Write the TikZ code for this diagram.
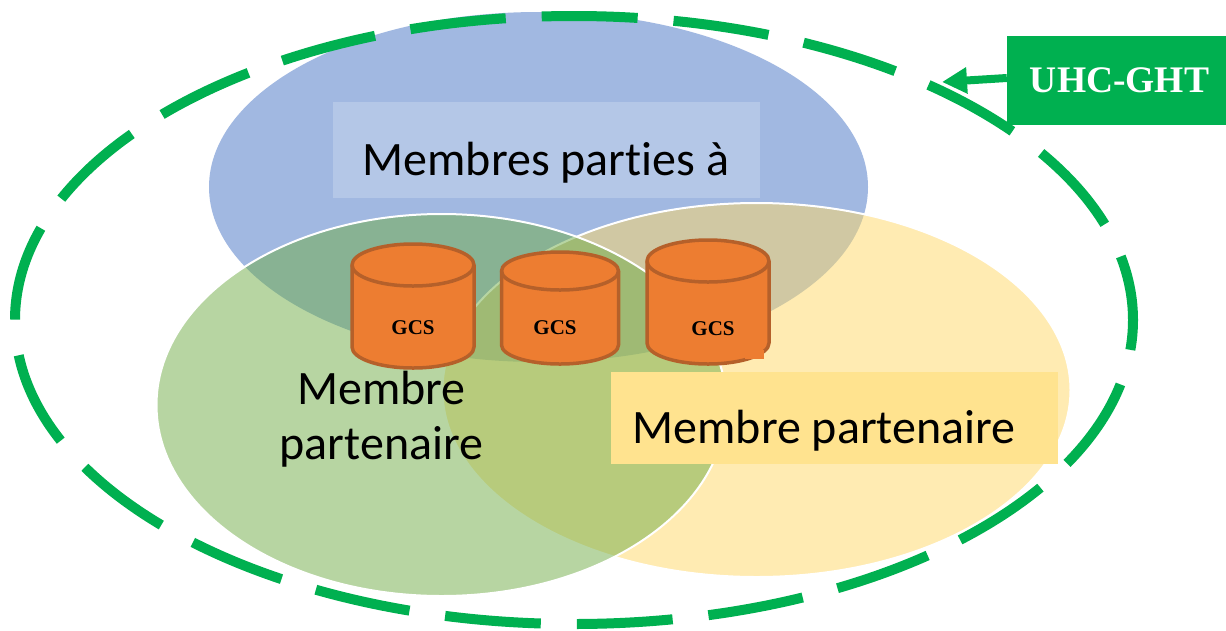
\documentclass[tikz,border=0pt]{standalone}
\usepackage{fontspec}
\setmainfont{Carlito}
\newfontfamily\serifb[Ligatures=TeX]{Liberation Serif}
\usetikzlibrary{arrows.meta,calc}
\definecolor{bluec}{HTML}{4472C4}
\definecolor{greenc}{HTML}{70AD47}
\definecolor{yellowc}{HTML}{FFD966}
\definecolor{orangec}{HTML}{ED7D31}
\definecolor{orangel}{HTML}{B5602A}
\definecolor{ghtc}{HTML}{00B050}
\definecolor{boxb}{HTML}{B4C7E7}
\definecolor{boxy}{HTML}{FFE38F}
\tikzset{
  venn/.style={fill opacity=.5,draw=white,draw opacity=1,line width=2pt},
  lab/.style={font=\fontsize{48}{55}\selectfont,text=black,inner sep=0pt,align=center},
  gcs/.style={font=\fontsize{21}{24}\selectfont\serifb\bfseries,text=black,inner sep=0pt},
  cyl/.style={fill=orangec,draw=orangel,line width=3.5pt,line join=round},
  ghtdash/.style={draw=ghtc,line width=10pt,dash pattern=on 96pt off 36pt,dash phase=66pt}
}
\newcommand{\cylinder}[5]{% cx, rx, top-y, bottom-y, ry
  \path[cyl] (#1-#2,#3+#5) -- (#1-#2,#4-#5)
    arc[start angle=180,end angle=0,x radius=#2,y radius=#5]
    -- (#1+#2,#3+#5)
    arc[start angle=0,end angle=-180,x radius=#2,y radius=#5] -- cycle;
  \path[cyl,fill=none] (#1-#2,#3+#5) arc[start angle=180,end angle=0,x radius=#2,y radius=#5];
}
\begin{document}
\begin{tikzpicture}[x=1pt,y=-1pt]
\useasboundingbox (0,0) rectangle (1226,630);
\fill[white] (0,0) rectangle (1226,630);
\path[fill=bluec,fill opacity=.5] (538.5,187) ellipse[x radius=329.5,y radius=175];
\path[venn,fill=yellowc] (756.5,390) ellipse[x radius=314,y radius=187];
\path[venn,fill=greenc] (441.5,405) ellipse[x radius=285,y radius=191];
\draw[ghtdash] (574,320) ellipse[x radius=559,y radius=304];
\node[fill=boxb,minimum width=427pt,minimum height=96pt,inner sep=0pt] (bparties) at (546.5,150) {};
\node[lab] (tparties) at (546,163) {Membres part\kern0pt ies à};
\node[fill=boxy,minimum width=447pt,minimum height=92pt,inner sep=0pt] (bpart) at (834.5,418) {};
\node[lab] (tpart) at (824,431) {Membre partenaire};
\node[lab] (tgreen) at (381.5,419) {Membre\\partenaire};
\cylinder{413}{61}{244}{368}{21}
\cylinder{560}{58.5}{252}{364}{19}
\cylinder{708}{61}{240}{364}{21}
\fill[orangec] (745,350) rectangle (764,358.5);
\node[gcs] (g1) at (413,328) {GCS};
\node[gcs] (g2) at (555,328) {GCS};
\node[gcs] (g3) at (713,329) {GCS};
\node[fill=ghtc,minimum width=219pt,minimum height=89pt,inner sep=0pt,text=white,font=\fontsize{37.5}{44}\selectfont\serifb\bfseries] (uhc) at (1116.5,80.5) {\hspace*{6pt}UHC-GHT};
\coordinate (tip) at (942,82);
\draw[ghtc,line width=8pt,-{Triangle[length=25pt,width=25pt]}] ($(uhc.west)+(0,-2.5)$) -- (tip);
\end{tikzpicture}
\end{document}
